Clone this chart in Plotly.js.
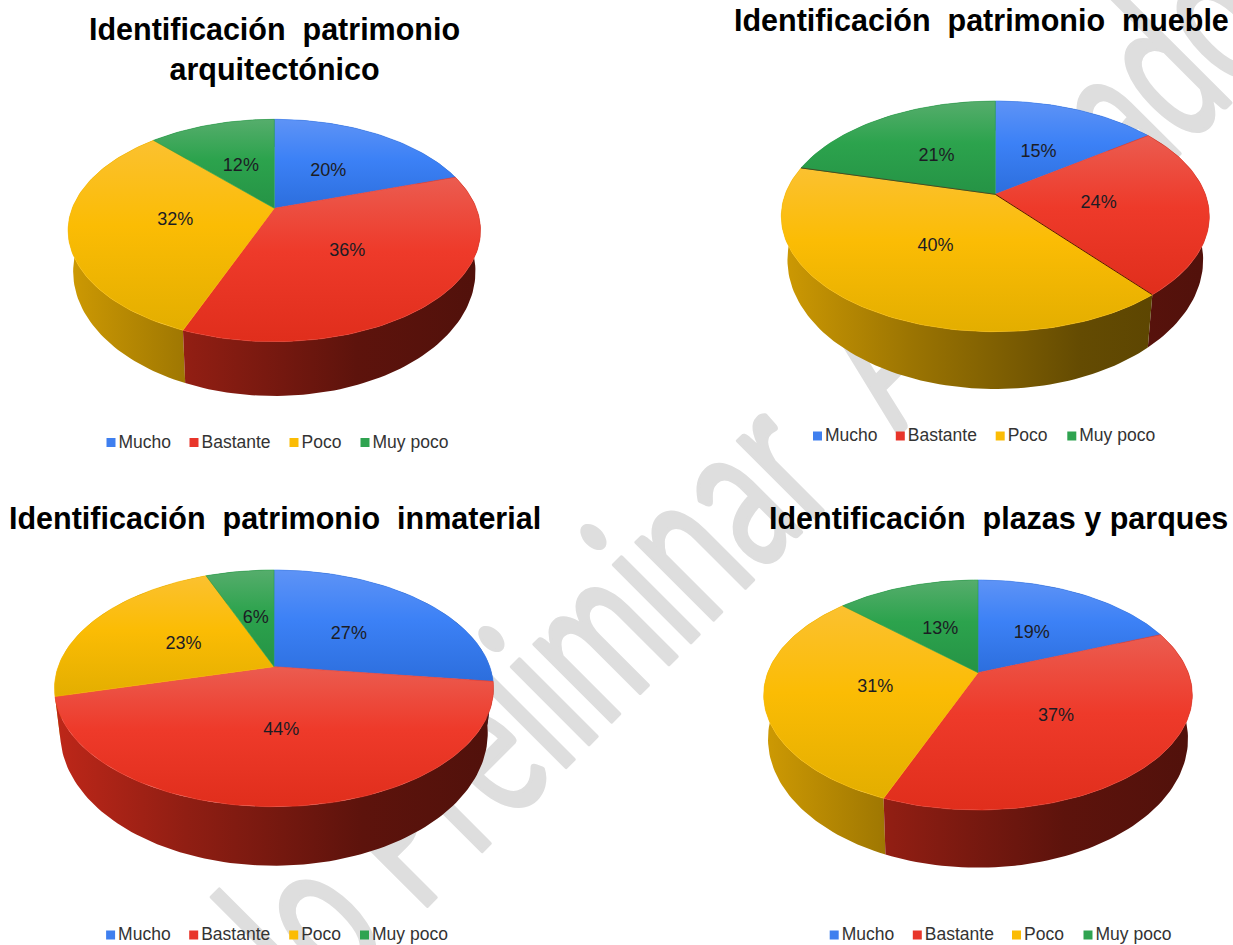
<!DOCTYPE html>
<html><head><meta charset="utf-8">
<script src="https://cdn.plot.ly/plotly-3.0.1.min.js"></script>
<style>
html,body{margin:0;padding:0;background:#fff;width:1233px;height:945px;overflow:hidden}
#wm{position:absolute;left:0;top:0;z-index:0}
#wm text{font-family:Lato;font-size:215px;fill:#dedede;stroke:#dedede;stroke-width:4;stroke-linejoin:round;white-space:pre}
#chart{position:absolute;left:0;top:0;width:1233px;height:945px;z-index:1}
</style></head><body>
<svg id="wm" width="1233" height="945">
 <text id="wmA" text-anchor="end">Modelo </text>
 <text id="wmB" text-anchor="start">Preliminar</text>
 <text id="wmC" text-anchor="start">Avanzado</text>
 <text id="wmM" visibility="hidden">Avanza</text>
</svg>
<div id="chart"></div>
<script>
// ---- data ----
const categories = ['Mucho','Bastante','Poco','Muy poco'];
const arquitectonico = [20,36,32,12];
const mueble = [15,24,40,21];
const inmaterial = [27,44,23,6];
const plazas = [19,37,31,13];
const titleA = 'Identificación\u00A0\u00A0patrimonio<br>arquitectónico';
const titleB = 'Identificación\u00A0\u00A0patrimonio\u00A0\u00A0mueble';
const titleC = 'Identificación\u00A0\u00A0patrimonio\u00A0\u00A0inmaterial';
const titleD = 'Identificación\u00A0\u00A0plazas\u00A0y\u00A0parques';

// ---- watermark: behind the plot, each word fitted to the length it has in the picture ----
const el = id => document.getElementById(id);
const wP = el('wmB').getComputedTextLength(), wA = el('wmM').getComputedTextLength();
const tP = `translate(418,915) rotate(-45) scale(${(601/wP).toFixed(3)},1)`;
el('wmA').setAttribute('transform',tP);
el('wmB').setAttribute('transform',tP);
el('wmC').setAttribute('transform',`translate(898,435) rotate(-45) scale(${(407/wA).toFixed(3)},1)`);

// ---- styles ----
const legendColors = ['#3F7FEF','#E8352A','#FBBC04','#2FA350'];
const topStops = [
 ['#5E93F6','#3C81F6','#2C6EDD'],
 ['#EB5C50','#EE3A2A','#E02E1C'],
 ['#FBC130','#FBBC04','#E3AE00'],
 ['#56AD6C','#2CA34D','#259345']];
const sideBase = [[66,133,244],[232,48,31],[251,188,4],[52,168,83]];
const shade = [[0,0.82],[0.3,0.62],[0.7,0.40],[1,0.35]];
const FONT = 'Liberation Sans';

// ---- geometry of each panel (picture pixels) ----
const panels = [
 {values:arquitectonico,title:titleA,tx:274.5,ty:49,cx:274.3,cy:208.3,top:119.3,bot:341.7,left:68.3,right:480.7,lowL:72.7,lowR:475,base:396,lx:[111,194,294,365],ly:443.5},
 {values:mueble,title:titleB,tx:981.5,ty:20,cx:995.3,cy:194.3,top:101,bot:331.7,left:780.7,right:1208.7,lowL:788,lowR:1203.7,base:389,lx:[817.5,900.3,1000.2,1071.8],ly:437,edges:true},
 {values:inmaterial,title:titleC,tx:275,ty:518.5,cx:274,cy:666.7,top:570,bot:806.7,left:54.7,right:493.7,lowL:60.5,lowR:488,base:865.7,lx:[110.6,193.7,293.7,364.5],ly:936},
 {values:plazas,title:titleD,tx:998,ty:518.5,cx:978,cy:672.7,top:580,bot:810,left:763.7,right:1192.3,lowL:768,lowR:1188,base:867.7,lx:[834.2,917.3,1016.5,1088],ly:936}
];
const lowerStretch = 1.12;

const traces = [], annotations = [];
const rgb = (c,f)=>`rgb(${c.map(v=>Math.round(v*f)).join(',')})`;

panels.forEach(p=>{
  const t=p.cy-p.top, b=p.bot-p.cy, k=(b-t)/(b+t);
  const ry0=t*(1+k), rxE=(p.right-p.left)/2, rx0=rxE*Math.sqrt(1-k*k);
  const s=(p.lowR-p.lowL)/(p.right-p.left);
  const ryE=(p.bot-p.top)/2, yE=(p.bot+p.top)/2-p.cy;   // projected ellipse centre relative to apex
  const ryL=ryE*lowerStretch, yL=p.base-ryL;            // wider-open lower rim
  const proj=(f,r=1)=>{ // f = share of the full turn, clockwise from 12 o'clock
    const a=2*Math.PI*f, X=r*Math.sin(a), Y=r*Math.cos(a), w=1+k*Y;
    return [rx0*X/w, -ry0*Y/w];
  };
  const lower=q=>{
    const u=Math.min(1,Math.abs(q[0])/rxE), h=ryL*Math.sqrt(1-u*u);
    return [p.cx+s*q[0], yL+(q[1]>=yE?h:-h)];
  };
  const total=p.values.reduce((a,v)=>a+v,0);
  let acc=0; const spans=p.values.map(v=>{const st=acc/total; acc+=v; return [st,acc/total];});
  const arc=(st,en)=>{const n=Math.max(8,Math.ceil((en-st)*240)),o=[];for(let i=0;i<=n;i++)o.push(proj(st+(en-st)*i/n));return o;};

  // side walls first, the slices furthest back before the front ones
  spans.map((sp,i)=>({sp,i})).sort((u,v)=>proj((u.sp[0]+u.sp[1])/2)[1]-proj((v.sp[0]+v.sp[1])/2)[1]).forEach(({sp,i})=>{
    const a=arc(sp[0],sp[1]);
    const up=a.map(q=>[p.cx+q[0],p.cy+q[1]]);
    const lo=a.map(lower).reverse();
    const all=up.concat(lo,[up[0]]);
    traces.push({type:'scatter',mode:'lines',x:all.map(q=>q[0]),y:all.map(q=>q[1]),fill:'toself',
      line:{width:0,color:'rgba(0,0,0,0)'},hoverinfo:'skip',showlegend:false,
      fillcolor:rgb(sideBase[i],0.5),
      fillgradient:{type:'horizontal',start:p.left,stop:p.right,
        colorscale:shade.map(([x,f])=>[x,rgb(sideBase[i],f)])}});
  });
  // top faces
  spans.forEach(([st,en],i)=>{
    const a=arc(st,en);
    const pts=[[p.cx,p.cy]].concat(a.map(q=>[p.cx+q[0],p.cy+q[1]]),[[p.cx,p.cy]]);
    const ys=pts.map(q=>q[1]), c=topStops[i];
    traces.push({type:'scatter',mode:'lines',x:pts.map(q=>q[0]),y:ys,fill:'toself',
      line:{width:0.6,color:c[1]},hoverinfo:'skip',showlegend:false,
      fillcolor:c[1],
      fillgradient:{type:'vertical',start:Math.min(...ys),stop:Math.max(...ys),
        colorscale:[[0,c[0]],[0.45,c[1]],[1,c[2]]]}});
  });
  // thin dark spokes in the second panel
  if(p.edges){
    [[spans[1][1],'#5a1008'],[spans[2][1],'#4a4a20']].forEach(([f,col])=>{
      const q=proj(f);
      traces.push({type:'scatter',mode:'lines',x:[p.cx,p.cx+q[0]],y:[p.cy,p.cy+q[1]],
        line:{width:1,color:col},hoverinfo:'skip',showlegend:false});
    });
  }
  // percent labels
  const lab=spans.map(([st,en])=>proj((st+en)/2,0.49));
  traces.push({type:'scatter',mode:'text',x:lab.map(q=>p.cx+q[0]),y:lab.map(q=>p.cy+q[1]+2.5),
    text:p.values.map(v=>v+'%'),textposition:'middle center',
    textfont:{family:FONT,size:18,color:'#1c1c24'},hoverinfo:'skip',showlegend:false});
  // legend
  categories.forEach((c,i)=>{
    traces.push({type:'scatter',mode:'markers',x:[p.lx[i]],y:[p.ly-1],
      marker:{symbol:'square',size:9,color:legendColors[i]},hoverinfo:'skip',showlegend:false});
    traces.push({type:'scatter',mode:'text',x:[p.lx[i]+7.5],y:[p.ly],text:[c],textposition:'middle right',
      textfont:{family:FONT,size:17.5,color:'#333333'},hoverinfo:'skip',showlegend:false});
  });
  annotations.push({xref:'x',yref:'y',x:p.tx,y:p.ty,text:p.title,showarrow:false,xanchor:'center',yanchor:'middle',
    align:'center',font:{family:FONT,size:30.5,color:'#000',weight:700}});
});

Plotly.newPlot('chart',traces,{
  width:1233,height:945,margin:{l:0,r:0,t:0,b:0},
  paper_bgcolor:'rgba(0,0,0,0)',plot_bgcolor:'rgba(0,0,0,0)',showlegend:false,
  xaxis:{range:[0,1233],visible:false,fixedrange:true},
  yaxis:{range:[945,0],visible:false,fixedrange:true},
  annotations
},{displayModeBar:false,staticPlot:true});
</script>
</body></html>
